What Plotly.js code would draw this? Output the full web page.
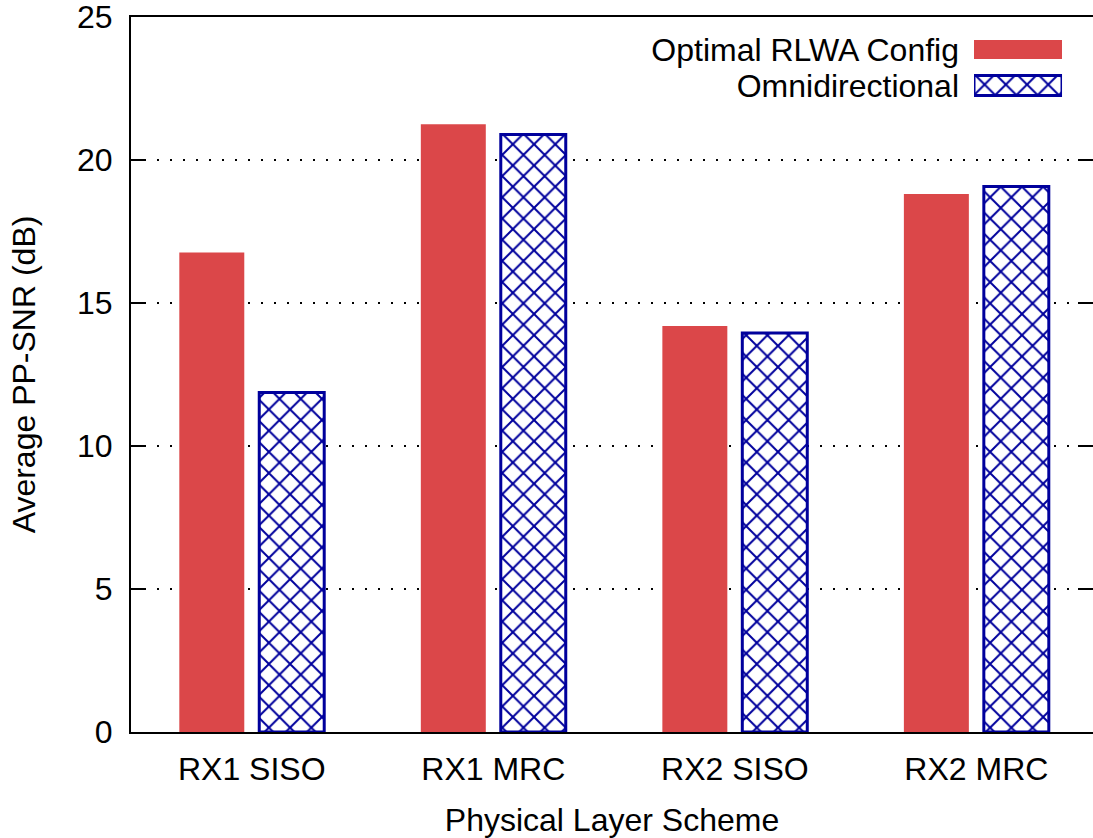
<!DOCTYPE html>
<html>
<head>
<meta charset="utf-8">
<script src="https://cdn.plot.ly/plotly-3.0.1.min.js"></script>
<style>html,body{margin:0;padding:0;background:#fff;}#chart{width:1093px;height:838px;}</style>
</head>
<body>
<div id="chart"></div>
<script>
const categories = ['RX1 SISO', 'RX1 MRC', 'RX2 SISO', 'RX2 MRC'];
const seriesNames = ['Optimal RLWA Config', 'Omnidirectional'];
const optimal = [16.77, 21.25, 14.2, 18.81];
const omni = [11.87, 20.89, 13.95, 19.07];
const yTicks = [0, 5, 10, 15, 20, 25];

const RED = '#db4749';
const NAVY = '#00009c';
const FONT = 'Liberation Sans, Arial, sans-serif';
const FS = 32;

const redMarker = {color: RED, line: {width: 0}};
const hatchMarker = {
  color: '#ffffff',
  pattern: {shape: 'x', fgcolor: NAVY, bgcolor: '#ffffff', size: 15, solidity: 0.25, fillmode: 'replace'},
  line: {color: NAVY, width: 3}
};

const traces = [
  {type: 'bar', x: categories, y: optimal, name: seriesNames[0], marker: redMarker,
   width: 0.269, offset: -0.3, xaxis: 'x', yaxis: 'y', showlegend: false, hoverinfo: 'skip'},
  {type: 'bar', x: categories, y: omni, name: seriesNames[1], marker: hatchMarker,
   width: 0.269, offset: 0.031, xaxis: 'x', yaxis: 'y', showlegend: false, hoverinfo: 'skip'},
  // legend keys
  {type: 'bar', orientation: 'h', y: [seriesNames[0]], x: [1], marker: redMarker, width: 0.53,
   xaxis: 'x3', yaxis: 'y3', showlegend: false, hoverinfo: 'skip'},
  {type: 'bar', orientation: 'h', y: [seriesNames[1]], x: [1], marker: hatchMarker, width: 0.56,
   xaxis: 'x3', yaxis: 'y3', showlegend: false, hoverinfo: 'skip'},
  // carrier for mirrored right ticks
  {type: 'scatter', x: [categories[0]], y: [0], yaxis: 'y2', mode: 'markers', marker: {opacity: 0}, showlegend: false, hoverinfo: 'skip'}
];

const layout = {
  width: 1093, height: 838,
  margin: {l: 131, r: 0, t: 17, b: 106},
  paper_bgcolor: '#fff', plot_bgcolor: '#fff',
  font: {family: FONT, size: FS, color: '#000'},
  barmode: 'overlay',
  showlegend: false,
  xaxis: {
    type: 'category', categoryarray: categories,
    range: [-0.5, 3.483],
    showline: true, linecolor: '#000', linewidth: 2, mirror: true,
    ticks: '', showgrid: false, zeroline: false,
    tickfont: {size: FS}, ticklabelstandoff: 8,
    title: {text: 'Physical Layer Scheme', font: {size: FS}, standoff: 24}
  },
  yaxis: {
    range: [0, 25], tickvals: yTicks,
    showline: true, linecolor: '#000', linewidth: 2,
    ticks: 'inside', ticklen: 15, tickwidth: 2, tickcolor: '#000',
    showgrid: true, gridcolor: '#000', gridwidth: 1.5, griddash: '2px,11px',
    zeroline: false, ticklabeloverflow: 'allow',
    tickfont: {size: FS}, ticklabelstandoff: 10,
    title: {text: 'Average PP-SNR (dB)', font: {size: FS}, standoff: 32}
  },
  yaxis2: {
    overlaying: 'y', side: 'right', anchor: 'x',
    range: [0, 25], tickvals: yTicks,
    ticks: 'inside', ticklen: 15, tickwidth: 2, tickcolor: '#000',
    showticklabels: false, showgrid: false, showline: false, zeroline: false
  },
  xaxis3: {
    domain: [0.8763, 0.9678], anchor: 'y3', range: [0, 1],
    visible: false, fixedrange: true
  },
  yaxis3: {
    domain: [0.879, 0.9797], anchor: 'x3', type: 'category',
    categoryarray: seriesNames, tickvals: seriesNames, range: [1.5, -0.5],
    showline: false, showgrid: false, zeroline: false, ticks: '',
    ticklabeloverflow: 'allow',
    tickfont: {size: FS}, ticklabelstandoff: 14, fixedrange: true
  }
};

Plotly.newPlot('chart', traces, layout, {staticPlot: true, displayModeBar: false});
</script>
</body>
</html>
